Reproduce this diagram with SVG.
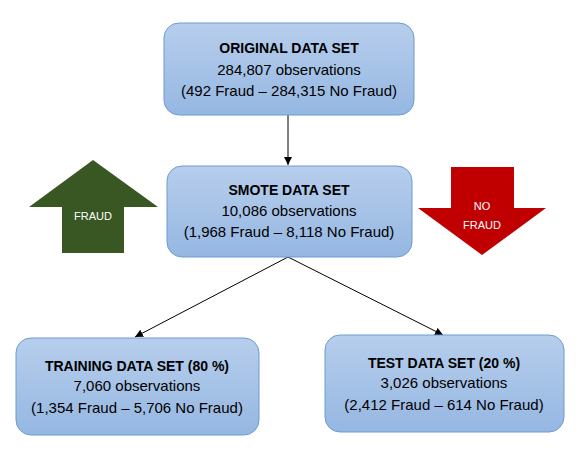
<svg xmlns="http://www.w3.org/2000/svg" width="587" height="456" viewBox="0 0 587 456">
<style>
.box{fill:url(#g);stroke:#6A9BD3;stroke-width:1}
.t{font-family:"Liberation Sans",Arial,sans-serif;font-size:15px;fill:#000;text-anchor:middle}
.b{font-weight:bold;font-size:14px}
.w{font-family:"Liberation Sans",Arial,sans-serif;font-size:11px;fill:#fff;text-anchor:middle}
.c{stroke:#000;stroke-width:1;fill:none;marker-end:url(#a)}
</style>
<defs>
<linearGradient id="g" x1="0" y1="0" x2="0" y2="1">
<stop offset="0" stop-color="#B7CEEC"/>
<stop offset="1" stop-color="#95B7E2"/>
</linearGradient>
<marker id="a" viewBox="0 0 10 10" refX="10" refY="5" markerWidth="8" markerHeight="8" orient="auto" markerUnits="userSpaceOnUse">
<path d="M0,0 L10,5 L0,10 z" fill="#000"/>
</marker>
</defs>
<rect width="587" height="456" fill="#fff"/>
<g id="connectors">
<line class="c" x1="288" y1="115" x2="288" y2="165"/>
<line class="c" x1="288" y1="257" x2="135" y2="337"/>
<line class="c" x1="288" y1="257" x2="443" y2="335"/>
</g>
<g id="fraud">
<polygon points="93,160 158,207 124,207 124,253 62,253 62,207 29,207" fill="#385723"/>
<text class="w" x="93" y="220">FRAUD</text>
</g>
<g id="nofraud">
<polygon points="451,167 514,167 514,208 546,208 482,255 418,208 451,208" fill="#C00000"/>
<text class="w" x="482" y="210">NO</text>
<text class="w" x="482" y="229">FRAUD</text>
</g>
<g id="original">
<rect class="box" x="164" y="23" width="250" height="92" rx="15"/>
<text class="t b" x="289" y="53">ORIGINAL DATA SET</text>
<text class="t" x="289" y="75">284,807 observations</text>
<text class="t" x="289" y="96">(492 Fraud – 284,315 No Fraud)</text>
</g>
<g id="smote">
<rect class="box" x="167" y="166" width="245" height="91" rx="15"/>
<text class="t b" x="289" y="195">SMOTE DATA SET</text>
<text class="t" x="289" y="216">10,086 observations</text>
<text class="t" x="289" y="237">(1,968 Fraud – 8,118 No Fraud)</text>
</g>
<g id="training">
<rect class="box" x="16" y="338" width="243" height="97" rx="15"/>
<text class="t b" x="137" y="371">TRAINING DATA SET (80 %)</text>
<text class="t" x="137" y="391">7,060 observations</text>
<text class="t" x="137" y="413">(1,354 Fraud – 5,706 No Fraud)</text>
</g>
<g id="test">
<rect class="box" x="325" y="335" width="239" height="97" rx="15"/>
<text class="t b" x="444" y="368">TEST DATA SET (20 %)</text>
<text class="t" x="444" y="388">3,026 observations</text>
<text class="t" x="444" y="410">(2,412 Fraud – 614 No Fraud)</text>
</g>
</svg>
